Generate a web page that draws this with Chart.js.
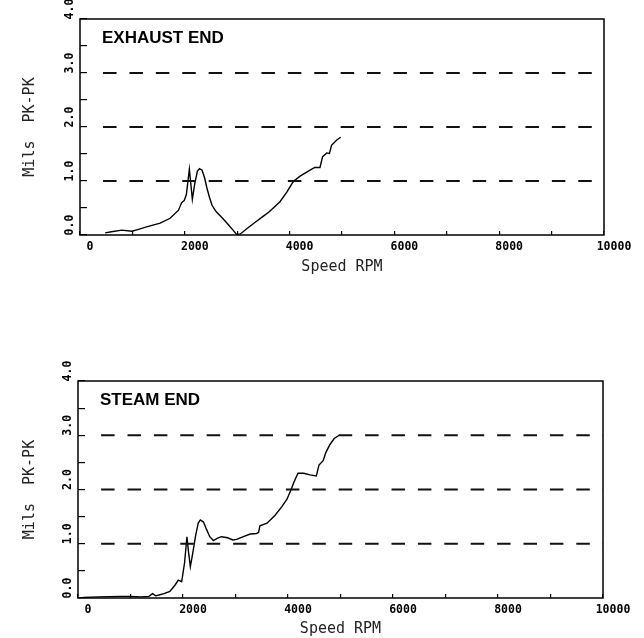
<!DOCTYPE html>
<html>
<head>
<meta charset="utf-8">
<script src="https://cdn.jsdelivr.net/npm/chart.js@4.4.1/dist/chart.umd.min.js"></script>
<style>
  html, body { margin: 0; padding: 0; background: #fff; overflow: hidden; }
  #wrap { position: relative; width: 644px; height: 638px; }
  .box { position: absolute; left: 0; width: 644px; }
</style>
</head>
<body>
<div id="wrap">
  <div class="box" style="top:0;height:300px"><canvas id="exhaust" width="644" height="300"></canvas></div>
  <div class="box" style="top:328px;height:310px"><canvas id="steam" width="644" height="310"></canvas></div>
</div>
<script>
// exhaust end, speed (rpm) vs vibration (mils pk-pk)
const exhaustRpm = [480, 600, 800, 990, 1100, 1270, 1530, 1720, 1880, 1940, 1990, 2030, 2087, 2115, 2144, 2190, 2240, 2280, 2330, 2380, 2420, 2470, 2520, 2600, 2680, 2760, 2840, 2920, 2990, 3060, 3200, 3350, 3500, 3600, 3700, 3820, 3950, 4070, 4200, 4350, 4480, 4580, 4630, 4710, 4760, 4800, 4900, 4975];
const exhaustMils = [0.04, 0.06, 0.09, 0.07, 0.10, 0.15, 0.22, 0.31, 0.46, 0.60, 0.64, 0.75, 1.22, 0.95, 0.66, 0.95, 1.18, 1.23, 1.20, 1.05, 0.88, 0.70, 0.55, 0.43, 0.35, 0.27, 0.18, 0.09, 0.01, 0.02, 0.13, 0.24, 0.35, 0.42, 0.51, 0.62, 0.80, 0.99, 1.09, 1.18, 1.25, 1.25, 1.45, 1.52, 1.51, 1.66, 1.76, 1.81];

// steam end
const steamRpm = [100, 400, 800, 1000, 1200, 1350, 1420, 1480, 1560, 1640, 1750, 1850, 1910, 1975, 2030, 2075, 2105, 2140, 2190, 2240, 2290, 2330, 2390, 2450, 2510, 2580, 2650, 2730, 2850, 2950, 3020, 3150, 3280, 3400, 3440, 3465, 3600, 3750, 3880, 3980, 4060, 4110, 4190, 4300, 4420, 4540, 4590, 4670, 4720, 4800, 4880, 4975];
const steamMils = [0.01, 0.02, 0.03, 0.03, 0.02, 0.03, 0.08, 0.04, 0.06, 0.08, 0.12, 0.24, 0.33, 0.30, 0.65, 1.13, 0.85, 0.58, 0.85, 1.15, 1.38, 1.44, 1.40, 1.26, 1.13, 1.06, 1.10, 1.13, 1.11, 1.07, 1.08, 1.13, 1.18, 1.19, 1.21, 1.33, 1.38, 1.52, 1.68, 1.82, 2.00, 2.13, 2.30, 2.30, 2.27, 2.25, 2.45, 2.53, 2.68, 2.83, 2.94, 3.00];

// dashed reference levels and their rpm span
const refLevels = [1, 2, 3];
const refRpm = [440, 10000];

const xTickLabels = ['0', '2000', '4000', '6000', '8000', '10000'];
const yTickLabels = ['0.0', '1.0', '2.0', '3.0', '4.0'];

const tickFont = { family: '"DejaVu Sans Mono", monospace', size: 11.5, weight: 'bold' };
const titleFont = { family: '"DejaVu Sans Mono", monospace', size: 15 };

const frame = {
  id: 'frame',
  afterDraw(chart, args, opts) {
    const { ctx, chartArea: a } = chart;
    ctx.save();
    ctx.strokeStyle = '#000';
    ctx.lineWidth = 1.5;
    ctx.strokeRect(a.left, a.top, a.right - a.left, a.bottom - a.top);
    ctx.font = 'bold 17px "Liberation Sans", Arial, sans-serif';
    ctx.fillStyle = '#000';
    ctx.textBaseline = 'middle';
    ctx.fillText(opts.label, a.left + 22, a.top + 19);
    ctx.restore();
  }
};

function makeChart(id, rpm, mils, label, pad, yWidth, xHeight, titleBottom) {
  const datasets = refLevels.map(lv => ({
    data: refRpm.map(r => ({ x: r, y: lv })),
    borderColor: '#111',
    borderWidth: 1.8,
    borderDash: [13.5, 12.9],
    pointRadius: 0
  }));
  datasets.push({
    data: rpm.map((r, i) => ({ x: r, y: mils[i] })),
    borderColor: '#000',
    borderWidth: 1.4,
    pointRadius: 0,
    tension: 0
  });

  new Chart(document.getElementById(id), {
    type: 'line',
    data: { datasets: datasets },
    plugins: [frame],
    options: {
      responsive: false,
      animation: false,
      devicePixelRatio: 1,
      layout: { padding: pad },
      plugins: {
        legend: { display: false },
        tooltip: { enabled: false },
        frame: { label: label }
      },
      scales: {
        x: {
          type: 'linear',
          min: 0,
          max: 10000,
          afterFit: s => { s.height = xHeight; },
          border: { display: false },
          grid: { drawOnChartArea: false, tickLength: -4, color: '#000', lineWidth: 1.2 },
          ticks: {
            stepSize: 1000,
            autoSkip: false,
            maxRotation: 0,
            padding: 9,
            labelOffset: 10,
            color: '#000',
            font: tickFont,
            callback: v => v % 2000 === 0 ? xTickLabels[v / 2000] : ''
          },
          title: {
            display: true,
            text: 'Speed RPM',
            color: '#222',
            font: titleFont,
            padding: { top: 0, bottom: titleBottom }
          }
        },
        y: {
          min: 0,
          max: 4,
          afterFit: s => { s.width = yWidth; },
          border: { display: false },
          grid: { drawOnChartArea: false, tickLength: -7, color: '#000', lineWidth: 1.2 },
          ticks: {
            stepSize: 0.5,
            autoSkip: false,
            minRotation: 90,
            maxRotation: 90,
            crossAlign: 'center',
            padding: 6.5,
            labelOffset: -10,
            color: '#000',
            font: tickFont,
            callback: v => Number.isInteger(v) ? yTickLabels[v] : ''
          },
          title: {
            display: true,
            text: 'Mils  PK-PK',
            color: '#222',
            font: titleFont,
            padding: { top: 21, bottom: 0 }
          }
        }
      }
    }
  });
}

makeChart('exhaust', exhaustRpm, exhaustMils, 'EXHAUST END', { top: 19, right: 40, left: 0, bottom: 0 }, 80, 65, 24);
makeChart('steam', steamRpm, steamMils, 'STEAM END', { top: 53, right: 41, left: 0, bottom: 0 }, 78, 40, 0);
</script>
</body>
</html>
